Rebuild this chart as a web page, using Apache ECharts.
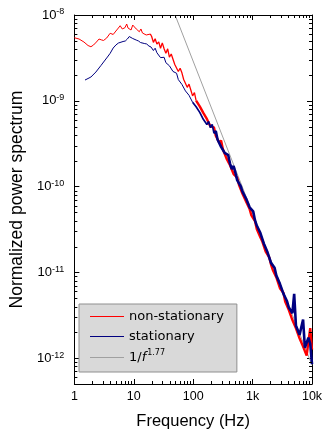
<!DOCTYPE html>
<html><head><meta charset="utf-8">
<script src="https://cdn.jsdelivr.net/npm/echarts@6/dist/echarts.min.js"></script>
<style>html,body{margin:0;padding:0;background:#fff}#c{width:329px;height:436px}</style>
</head><body><div id="c"></div>
<script>
// Low-frequency part (exponents = log10 of normalized power)
const lowFreqRed = [1.0,1.2,1.45,1.7,1.9,2.1,2.35,2.6,2.85,3.1,3.5,4.0,4.5,5.0,5.5,5.9,6.4,7.1,7.6,8.0,8.5,9.0,9.6,10.3,11,11.7,12.4,13.2,14,15,16.2,17.5,19];
const lowExpRed = [-8.265,-8.28,-8.315,-8.356,-8.37,-8.35,-8.315,-8.28,-8.29,-8.297,-8.268,-8.213,-8.227,-8.187,-8.152,-8.125,-8.163,-8.148,-8.105,-8.152,-8.136,-8.175,-8.117,-8.128,-8.163,-8.14,-8.195,-8.163,-8.21,-8.187,-8.233,-8.253,-8.222];
const lowFreqBlue = [1.51,1.9,2.3,2.8,3.2,3.6,4.0,4.5,5.0,5.5,5.9,6.6,7.2,7.8,8.4,9.0,9.6,10.3,11,12,13,14,15,16.5,18,19.5];
const lowExpBlue = [-8.758,-8.723,-8.665,-8.589,-8.536,-8.49,-8.447,-8.385,-8.35,-8.327,-8.311,-8.309,-8.303,-8.28,-8.251,-8.257,-8.274,-8.28,-8.292,-8.303,-8.321,-8.315,-8.332,-8.338,-8.362,-8.373];
// Higher-frequency part
const freqHigh = [20.0,21.4,22.9,24.5,26.3,28.2,30.2,32.4,34.7,37.2,39.8,42.7,45.7,49.0,52.5,56.2,60.3,64.6,69.2,74.1,79.4,85.1,91.2,97.7,105,112,120,129,138,148,158,170,182,195,209,224,240,257,275,295,316,339,363,389,417,447,479,513,550,589,631,676,724,776,832,891,955,1023,1096,1175,1259,1349,1445,1549,1660,1778,1905,2042,2188,2344,2512,2692,2884,3090,3311,3548,3802,4074,4365,4677,5012,5370,5754,6166,6607,7079,7586,8128,8710,9333,10000];
const expRedHigh = [-8.251,-8.319,-8.277,-8.340,-8.313,-8.387,-8.325,-8.393,-8.446,-8.394,
-8.492,-8.455,-8.473,-8.576,-8.569,-8.658,-8.621,-8.674,-8.752,-8.735,
-8.843,-8.806,-8.874,-8.942,-8.905,-8.999,-8.982,-9.065,-9.048,-9.141,
-9.124,-9.212,-9.190,-9.298,-9.276,-9.310,-9.408,-9.396,-9.489,-9.462,
-9.565,-9.578,-9.671,-9.674,-9.752,-9.746,-9.854,-9.877,-9.895,-9.978,
-9.976,-10.084,-10.092,-10.173,-10.183,-10.262,-10.335,-10.338,-10.401,-10.494,
-10.487,-10.590,-10.633,-10.656,-10.759,-10.763,-10.826,-10.909,-10.972,-10.965,
-11.058,-11.081,-11.184,-11.197,-11.240,-11.344,-11.347,-11.440,-11.463,-11.556,
-11.559,-11.652,-11.675,-11.768,-11.771,-11.865,-11.868,-11.971,-11.994,-11.65,
-11.90];
const expBlueHigh = [-8.371,-8.414,-8.387,-8.440,-8.433,-8.497,-8.485,-8.493,-8.556,-8.549,
-8.592,-8.585,-8.658,-8.656,-8.679,-8.753,-8.756,-8.809,-8.812,-8.885,
-8.878,-8.936,-8.934,-9.017,-9.000,-9.069,-9.052,-9.135,-9.128,-9.216,
-9.194,-9.277,-9.240,-9.313,-9.276,-9.380,-9.353,-9.451,-9.429,-9.537,
-9.515,-9.608,-9.611,-9.634,-9.732,-9.796,-9.760,-9.837,-9.925,-9.908,
-9.996,-10.059,-10.037,-10.140,-10.158,-10.242,-10.245,-10.288,-10.391,-10.454,
-10.457,-10.540,-10.543,-10.666,-10.679,-10.763,-10.766,-10.889,-10.882,-10.945,
-11.038,-11.031,-11.134,-11.147,-11.250,-11.234,-11.337,-11.410,-11.403,-11.476,
-11.25,-11.622,-11.625,-11.728,-11.721,-11.55,-11.878,-11.891,-11.76,-11.83,
-12.07];
// Reference power-law line 1/f^1.77 (two end points)
const refFreq = [49.6, 10000];
const refPower = [1e-8, 8.3e-13];
// Axes and ticks
const xTickValues = [1,10,100,1000,10000];
const xTickText = ['1','10','100','1k','10k'];
const yTickValues = [1e-12,1e-11,1e-10,1e-9,1e-8];
const yTickExp = ['-12','-11','-10','-9','-8'];
const xMinorTicks = [2,3,4,5,6,7,8,9,20,30,40,50,60,70,80,90,200,300,400,500,600,700,800,900,2000,3000,4000,5000,6000,7000,8000,9000];
const yMinorTicks = [6e-13,7e-13,8e-13,9e-13,2e-12,3e-12,4e-12,5e-12,6e-12,7e-12,8e-12,9e-12,2e-11,3e-11,4e-11,5e-11,6e-11,7e-11,8e-11,9e-11,2e-10,3e-10,4e-10,5e-10,6e-10,7e-10,8e-10,9e-10,2e-9,3e-9,4e-9,5e-9,6e-9,7e-9,8e-9,9e-9];
const xMin = 1, xMax = 10000, yMin = 5e-13, yMax = 1e-8;
// indices in freqHigh where the traces get denser (drawn thicker)
const redSplit = 25, blueSplit1 = 23, blueSplit2 = 35;

const toPts = (fs, es) => fs.map((f, i) => [f, Math.pow(10, es[i])]);
const redLow = toPts(lowFreqRed, lowExpRed);
const redHighAll = toPts(freqHigh, expRedHigh);
const redMid = [redLow[redLow.length - 1]].concat(redHighAll.slice(0, redSplit + 1));
const redHigh = redHighAll.slice(redSplit);
const blueHighAll = toPts(freqHigh, expBlueHigh);
const blueLow = toPts(lowFreqBlue, lowExpBlue).concat(blueHighAll.slice(0, blueSplit1 + 1));
const blueMid = blueHighAll.slice(blueSplit1, blueSplit2 + 1);
const blueHigh = blueHighAll.slice(blueSplit2);
const refData = refFreq.map((f, i) => [f, refPower[i]]);
const minorData = [];
xMinorTicks.forEach(f => { minorData.push([f, yMin, 0]); minorData.push([f, yMax, 1]); });
yMinorTicks.forEach(v => { minorData.push([xMin, v, 2]); minorData.push([xMax, v, 3]); });

const RED = '#ff0000', BLUE = '#000080', GRAY = '#a0a0a0';
const FONT = 'Liberation Sans';
function xLabel(v) {
  const i = xTickValues.findIndex(t => Math.abs(Math.log10(t) - Math.log10(v)) < 1e-6);
  return i < 0 ? '' : xTickText[i];
}
function yLabel(v) {
  const i = yTickValues.findIndex(t => Math.abs(Math.log10(t) - Math.log10(v)) < 1e-6);
  return i < 0 ? '' : '{b|10}{e|' + yTickExp[i] + '}';
}
const axisCommon = {
  type: 'log', logBase: 10,
  axisLine: { show: true, onZero: false, lineStyle: { color: '#000', width: 1 } },
  axisTick: { show: true, inside: true, length: 5, lineStyle: { color: '#000' } },
  splitLine: { show: false }, minorTick: { show: false }
};
const lineSeries = (name, data, color, width, z) => ({
  name: name, type: 'line', data: data, showSymbol: false, symbol: 'none', z: z, color: color,
  itemStyle: { color: color }, lineStyle: { color: color, width: width }
});
const legendItem = (name, color) => ({ name: name, icon: 'rect', itemStyle: { color: color, borderColor: color, borderWidth: 0, opacity: 1 } });

const chart = echarts.init(document.getElementById('c'), null, { renderer: 'canvas' });
chart.setOption({
  animation: false,
  backgroundColor: '#fff',
  color: [GRAY, RED, RED, RED, BLUE, BLUE, BLUE, '#000000'],
  grid: { left: 67, right: 17, top: 15, bottom: 52, containLabel: false },
  xAxis: [
    Object.assign({}, axisCommon, { min: xMin, max: xMax, position: 'bottom',
      name: 'Frequency (Hz)', nameLocation: 'middle', nameGap: 29,
      nameTextStyle: { fontFamily: FONT, fontSize: 16.5, color: '#000' },
      axisLabel: { show: true, margin: 6, formatter: xLabel, fontFamily: FONT, fontSize: 12.5, color: '#000', showMinLabel: true, showMaxLabel: true } }),
    Object.assign({}, axisCommon, { min: xMin, max: xMax, position: 'top', axisLabel: { show: false } })
  ],
  yAxis: [
    Object.assign({}, axisCommon, { min: yMin, max: yMax, position: 'left',
      name: 'Normalized power spectrum', nameLocation: 'middle', nameGap: 46, nameRotate: 90,
      nameTextStyle: { fontFamily: FONT, fontSize: 17.5, color: '#000' },
      axisLabel: { show: true, margin: 10, formatter: yLabel, color: '#000',
        rich: { b: { fontFamily: FONT, fontSize: 13, color: '#000', lineHeight: 15 },
                e: { fontFamily: FONT, fontSize: 9, color: '#000', verticalAlign: 'top' } } } }),
    Object.assign({}, axisCommon, { min: yMin, max: yMax, position: 'right', axisLabel: { show: false } })
  ],
  legend: {
    data: [legendItem('non-stationary', RED), legendItem('stationary', BLUE), legendItem('ref', GRAY)],
    orient: 'vertical', left: 79, top: 304,
    padding: [5, 13, 6, 11], itemGap: 5,
    icon: 'rect', itemWidth: 34, itemHeight: 1,
    itemStyle: { borderWidth: 0 },
    backgroundColor: '#d9d9d9', borderColor: '#8f8f8f', borderWidth: 1, borderRadius: 0,
    selectedMode: false,
    formatter: n => n === 'ref' ? '{n|1/}{i|f}{s|1.77}' : n,
    textStyle: { fontFamily: 'DejaVu Sans', fontSize: 13, color: '#000', lineHeight: 15,
      rich: { n: { fontFamily: 'DejaVu Sans', fontSize: 13, color: '#000', lineHeight: 17 },
              i: { fontFamily: 'DejaVu Sans', fontStyle: 'italic', fontSize: 13, color: '#000', lineHeight: 17, padding: [0, 1, 0, 0] },
              s: { fontFamily: 'DejaVu Sans', fontSize: 8, color: '#000', verticalAlign: 'top' } } }
  },
  series: [
    lineSeries('ref', refData, GRAY, 1, 1),
    lineSeries('non-stationary', redLow, RED, 1, 2),
    lineSeries('non-stationary (mid)', redMid, RED, 1.3, 2),
    lineSeries('non-stationary (band)', redHigh, RED, 2.4, 2),
    lineSeries('stationary', blueLow, BLUE, 1, 3),
    lineSeries('stationary (mid)', blueMid, BLUE, 1.7, 3),
    lineSeries('stationary (band)', blueHigh, BLUE, 2.6, 3),
    { type: 'custom', name: 'minor ticks', color: '#000000', data: minorData, encode: { x: 0, y: 1 }, clip: false, silent: true, z: 5,
      renderItem: function (params, api) {
        const p = api.coord([api.value(0), api.value(1)]);
        const d = api.value(2), L = 3;
        let x1 = p[0], y1 = p[1];
        if (d < 2) x1 = Math.round(x1) + 0.5; else y1 = Math.round(y1) + 0.5;
        let x2 = x1, y2 = y1;
        if (d === 0) y2 = y1 - L; else if (d === 1) y2 = y1 + L; else if (d === 2) x2 = x1 + L; else x2 = x1 - L;
        return { type: 'line', shape: { x1: x1, y1: y1, x2: x2, y2: y2 }, style: { stroke: '#000', lineWidth: 1 } };
      } }
  ]
});
</script></body></html>
